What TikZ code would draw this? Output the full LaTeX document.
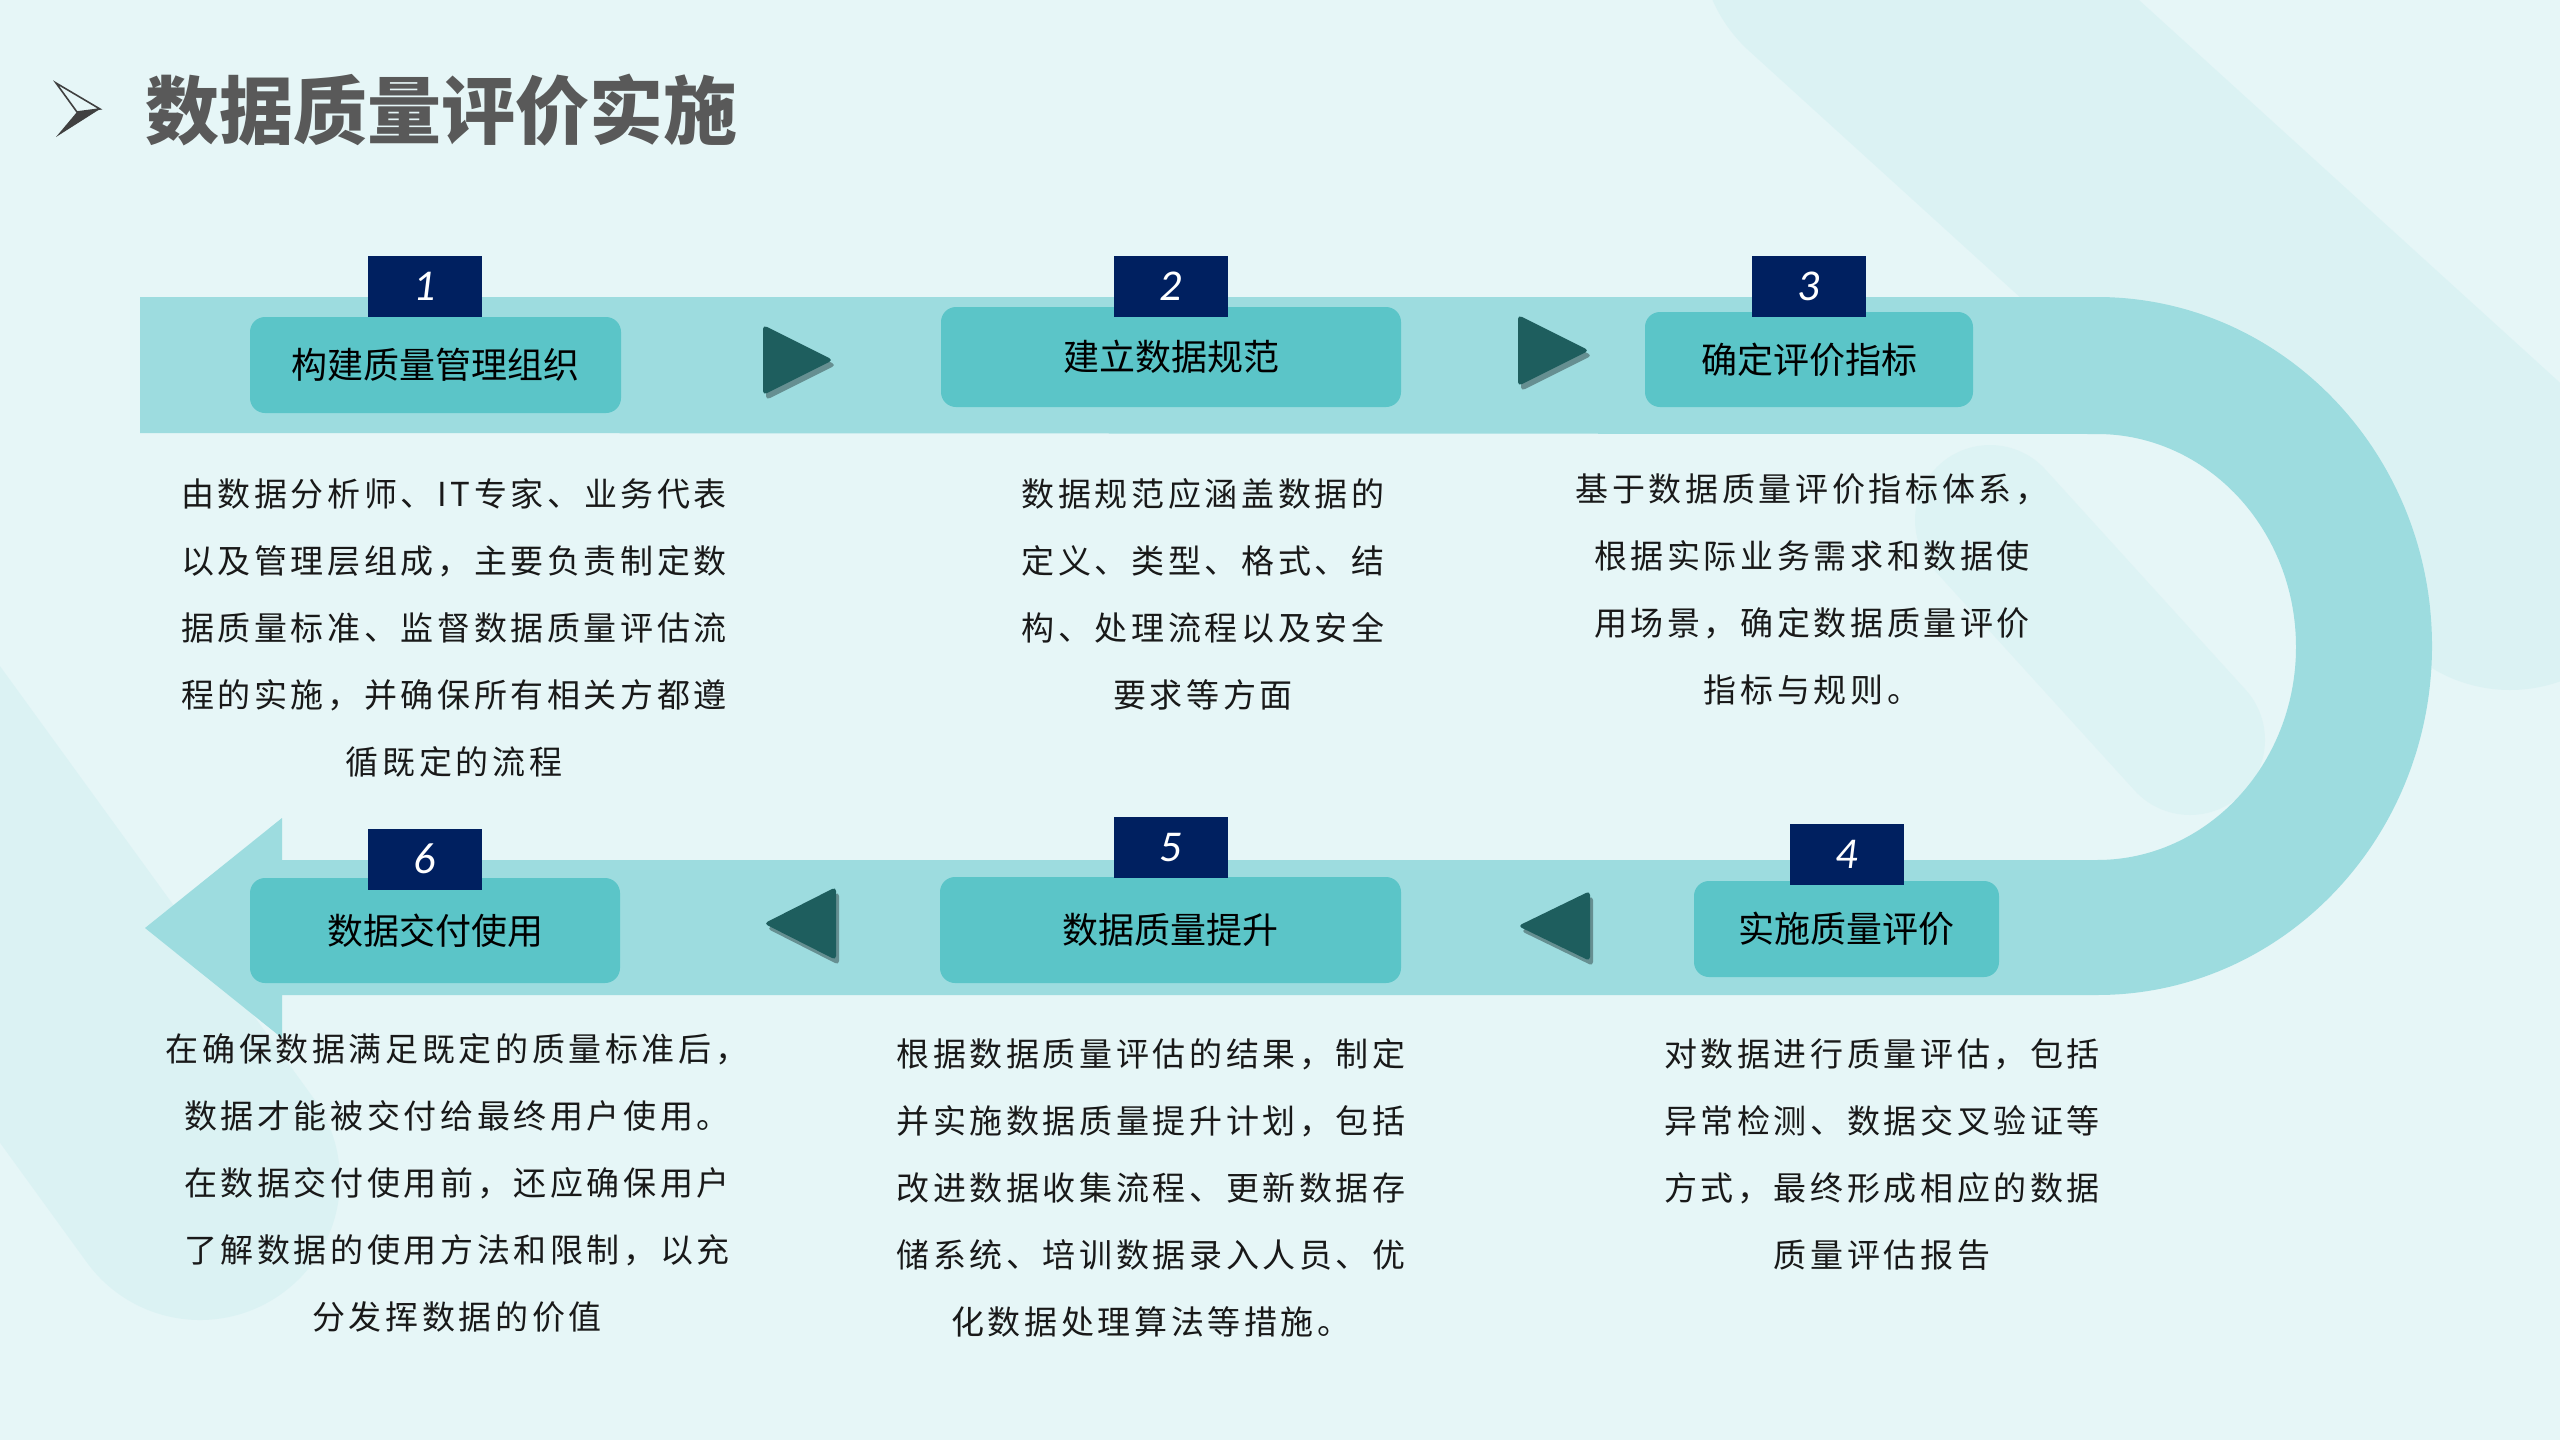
\documentclass[tikz,border=0pt]{standalone}
\usepackage{fontspec}
\newfontfamily\cjk{Noto Sans CJK SC}
\newfontfamily\bodyf[LetterSpace=11]{Noto Sans CJK SC}
\newfontfamily\numf{Carlito}
\usetikzlibrary{shadows}
\definecolor{bgc}{HTML}{E6F6F7}
\definecolor{bandc}{HTML}{9DDCDF}
\definecolor{boxc}{HTML}{5BC5C8}
\definecolor{navyc}{HTML}{002060}
\definecolor{tric}{HTML}{1E5E5E}
\definecolor{decoc}{HTML}{CFEEF0}
\definecolor{titlec}{HTML}{595959}
\definecolor{arrowc}{HTML}{404040}
\begin{document}
\begin{tikzpicture}[x=1pt,y=-1pt,
  stepbox/.style={fill=boxc, rounded corners=15pt, inner sep=0pt, font=\cjk\fontsize{36}{40}\selectfont, text=black},
  numbox/.style={fill=navyc, minimum width=114pt, minimum height=61pt, inner sep=0pt, text=white, font=\numf\itshape\fontsize{44}{48}\selectfont},
  desc/.style={align=center, inner sep=0pt, anchor=base, font=\bodyf\fontsize{33}{67}\selectfont, text=black!90},
  tri/.style={fill=tric, rounded corners=4pt, drop shadow={shadow xshift=3pt, shadow yshift=-5pt, opacity=0.35, fill=black}},
  deco/.style={line cap=round, draw=decoc, opacity=0.45},
]
\useasboundingbox (0,0) rectangle (2560,1440);
\fill[bgc] (0,0) rectangle (2560,1440);
% decorative bands
\draw[deco, line width=280pt] (-250,560) -- (200,1180);
\draw[deco, line width=300pt] (1850,-60) -- (2510,540);
\draw[deco, line width=150pt, opacity=0.35] (1990,520) -- (2190,740);

% title
\draw[arrowc, line width=1.6pt, line join=miter] (56,83) -- (100,109) -- (77,112) -- cycle;
\fill[arrowc] (56,137) -- (100,109) -- (77,112) -- cycle;
\node[anchor=west, inner sep=0pt, text=titlec, font=\cjk\bfseries\fontsize{74}{80}\selectfont] (title) at (145,110) {数据质量评价实施};

% main band with U-turn and arrowhead
\fill[bandc] (140,297) -- (2097,297)
  arc[start angle=-90, end angle=90, x radius=335, y radius=349]
  -- (282,995) -- (282,1038) -- (145,928) -- (282,818) -- (282,860) -- (2097,860)
  arc[start angle=90, end angle=-90, x radius=199, y radius=213]
  -- (140,433) -- cycle;

% triangles
\fill[tri] (763,325) -- (833,360) -- (763,395) -- cycle;
\fill[tri] (1518,315) -- (1589,350.5) -- (1518,386) -- cycle;
\fill[tri] (836,887) -- (764,923.5) -- (836,960) -- cycle;
\fill[tri] (1590,891) -- (1518,926) -- (1590,961) -- cycle;

% step boxes
\node[stepbox, minimum width=371pt, minimum height=96pt] (b1) at (435.5,365) {构建质量管理组织};
\node[stepbox, minimum width=460pt, minimum height=100pt] (b2) at (1171,357) {建立数据规范};
\node[stepbox, minimum width=328pt, minimum height=95pt] (b3) at (1809,359.5) {确定评价指标};
\node[stepbox, minimum width=305pt, minimum height=96pt] (b4) at (1846.5,929) {实施质量评价};
\node[stepbox, minimum width=461pt, minimum height=106pt] (b5) at (1170.5,930) {数据质量提升};
\node[stepbox, minimum width=370pt, minimum height=105pt] (b6) at (435,930.5) {数据交付使用};

% number boxes
\node[numbox] (n1) at (425,286.5) {1};
\node[numbox] (n2) at (1170.5,286) {2};
\node[numbox] (n3) at (1809,286.5) {3};
\node[numbox] (n4) at (1846.5,854.5) {4};
\node[numbox] (n5) at (1170.5,847.5) {5};
\node[numbox] (n6) at (425,859) {6};

% descriptions (anchor=base is the baseline of the last line)
\node[desc] (d1) at (454,774) {由数据分析师、IT专家、业务代表\\以及管理层组成，主要负责制定数\\据质量标准、监督数据质量评估流\\程的实施，并确保所有相关方都遵\\循既定的流程};
\node[desc] (d2) at (1203,707) {数据规范应涵盖数据的\\定义、类型、格式、结\\构、处理流程以及安全\\要求等方面};
\node[desc] (d3) at (1812,702) {基于数据质量评价指标体系，\\根据实际业务需求和数据使\\用场景，确定数据质量评价\\指标与规则。};
\node[desc] (d4) at (1882,1267) {对数据进行质量评估，包括\\异常检测、数据交叉验证等\\方式，最终形成相应的数据\\质量评估报告};
\node[desc] (d5) at (1151,1334) {根据数据质量评估的结果，制定\\并实施数据质量提升计划，包括\\改进数据收集流程、更新数据存\\储系统、培训数据录入人员、优\\化数据处理算法等措施。};
\node[desc] (d6) at (457,1329) {在确保数据满足既定的质量标准后，\\数据才能被交付给最终用户使用。\\在数据交付使用前，还应确保用户\\了解数据的使用方法和限制，以充\\分发挥数据的价值};
\end{tikzpicture}
\end{document}
